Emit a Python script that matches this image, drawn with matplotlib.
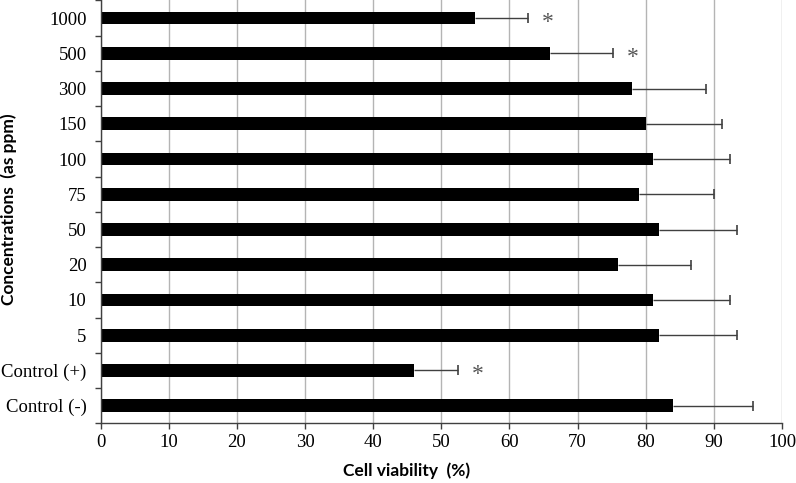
import matplotlib
matplotlib.use("Agg")
import matplotlib.pyplot as plt
import numpy as np

# data, bottom to top
categories = ["Control (-)", "Control (+)", "5", "10", "20", "50", "75",
              "100", "150", "300", "500", "1000"]
viability = [84, 46, 82, 81, 76, 82, 79, 81, 80, 78, 66, 55]
errors = [11.7, 6.5, 11.4, 11.3, 10.7, 11.4, 11.0, 11.3, 11.2, 10.8, 9.2, 7.7]
significant = [False, True, False, False, False, False, False,
               False, False, False, True, True]
x_ticks = list(range(0, 101, 10))

fig = plt.figure(figsize=(7.96, 4.83), dpi=100)
ax = fig.add_axes([0.1263, 0.1236, 0.8561, 0.8754])

y = np.arange(len(categories))
vals = np.array(viability)
errs = np.array(errors)
ax.barh(y, vals, height=0.36, color="black", zorder=2)

# one-sided error bars, cap only at the outer end
ax.hlines(y, vals, vals + errs, color="#404040", linewidth=1, zorder=3)
ax.plot(vals + errs, y, linestyle="none", marker="|", markersize=7,
        markeredgewidth=1.2, color="#404040", zorder=3)

# asterisks for significant values
for yi, v, e, s in zip(y, vals, errs, significant):
    if s:
        ax.annotate("*", (v + e + 2.9, yi), xytext=(0, -3),
                    textcoords="offset points", ha="center", va="center",
                    fontsize=17, color="#555555", family="Liberation Serif")

ax.set_xlim(0, 100)
ax.set_ylim(-0.5, len(categories) - 0.5)
ax.set_xticks(x_ticks)

# category labels in the middle, tick marks at the boundaries
ax.set_yticks(y)
ax.set_yticklabels(categories)
ax.set_yticks(np.arange(-0.5, len(categories), 1), minor=True)
ax.tick_params(axis="y", which="major", length=0, pad=10)
ax.tick_params(axis="y", which="minor", length=4, width=1, color="#404040")
ax.tick_params(axis="x", length=4, width=1, color="#404040", pad=4)

for lab in ax.get_xticklabels() + ax.get_yticklabels():
    lab.set_family("Liberation Serif")
    lab.set_fontsize(13.5)

# grid lines
ax.xaxis.grid(True, color="#b4b4b4", linewidth=1)
ax.set_axisbelow(True)

for side in ["top", "right"]:
    ax.spines[side].set_visible(False)
for side in ["left", "bottom"]:
    ax.spines[side].set_color("#404040")
    ax.spines[side].set_linewidth(1)

fig.text(407 / 796, 1 - 471 / 483, "Cell viability  (%)", fontsize=12.5,
         fontweight="bold", family="Lato", ha="center", va="center")
fig.text(9 / 796, 1 - 209 / 483, "Concentrations  (as ppm)", fontsize=12.5,
         fontweight="bold", family="Lato", ha="center", va="center",
         rotation=90)

fig.savefig("out.png", dpi=100)
